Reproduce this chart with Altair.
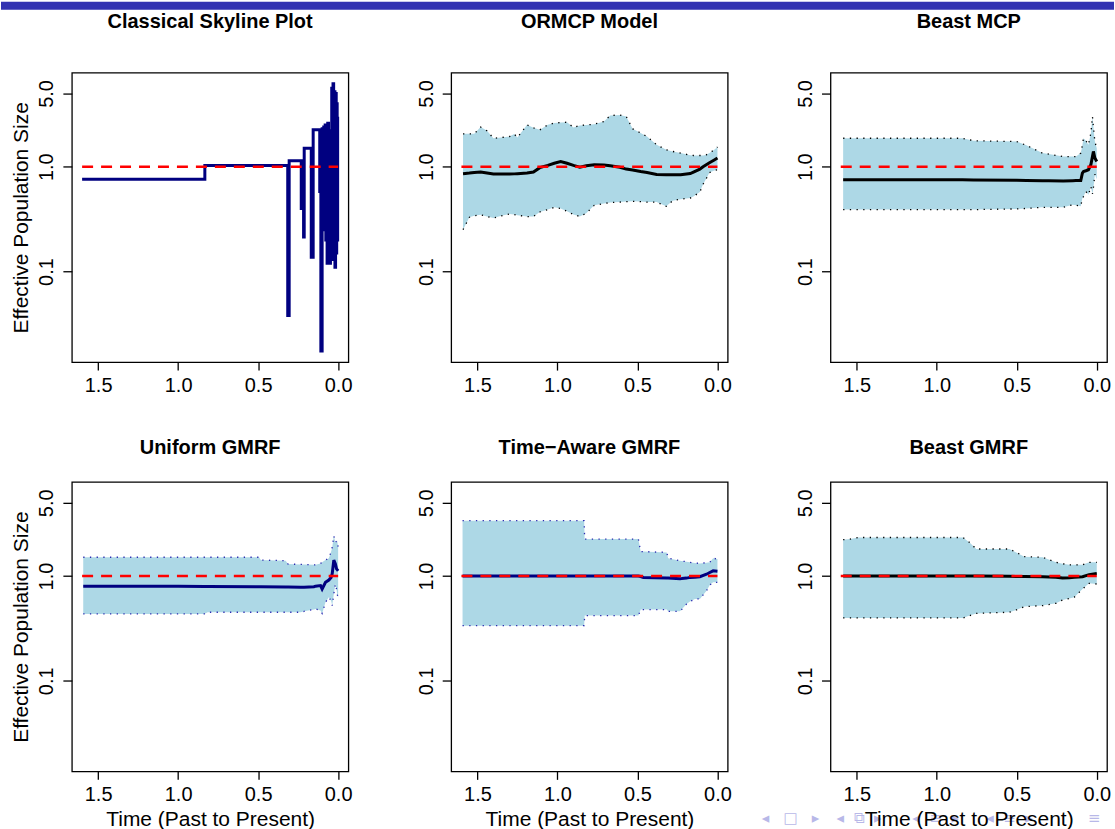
import altair as alt
import pandas as pd

# ---------------- data ----------------
panel_titles = ["Classical Skyline Plot", "ORMCP Model", "Beast MCP",
                "Uniform GMRF", "Time\u2212Aware GMRF", "Beast GMRF"]
x_ticks = [1.5, 1.0, 0.5, 0.0]
y_ticks = [0.1, 1.0, 5.0]
truth_t = [1.6, 0.0]
truth_n = [1.0, 1.0]

# Classical skyline: each value holds from its start time until the next start time
sky_start = [1.6, 0.833, 0.315, 0.306, 0.2305, 0.216, 0.212, 0.168, 0.156, 0.115,
             0.108, 0.100, 0.094, 0.090, 0.085, 0.081, 0.077, 0.073, 0.069, 0.065,
             0.060, 0.056, 0.052, 0.048, 0.044, 0.040, 0.036, 0.032, 0.028, 0.024,
             0.020, 0.016, 0.012, 0.009, 0.006, 0.003]
sky_value = [0.76, 1.03, 0.038, 1.14, 0.40, 0.214, 1.5, 0.137, 2.25, 0.58,
             0.0175, 2.3, 0.25, 2.4, 0.6, 2.5, 0.2, 2.0, 0.12, 2.6,
             0.5, 2.2, 0.12, 1.6, 0.3, 5.6, 0.13, 6.2, 0.5, 5.2,
             0.11, 5.0, 0.15, 4.0, 0.2, 3.0]
sky_end = 0.0

ormcp_t = [1.59, 1.55, 1.52, 1.48, 1.44, 1.40, 1.35, 1.30, 1.27, 1.25, 1.19, 1.15, 1.11,
           1.06, 1.02, 0.98, 0.94, 0.90, 0.86, 0.82, 0.77, 0.71, 0.67, 0.61, 0.57, 0.53,
           0.48, 0.44, 0.38, 0.32, 0.28, 0.23, 0.17, 0.15, 0.11, 0.09, 0.07, 0.05, 0.02, 0.0]
ormcp_upper = [2.06, 2.06, 2.06, 2.39, 2.2, 1.87, 1.90, 1.94, 2.05, 1.90, 2.51, 2.35, 2.25,
               2.51, 2.61, 2.64, 2.66, 2.37, 2.48, 2.50, 2.55, 2.70, 3.08, 3.12, 3.01, 2.30,
               2.10, 1.94, 1.62, 1.45, 1.40, 1.35, 1.29, 1.28, 1.28, 1.28, 1.30, 1.35, 1.45, 1.54]
ormcp_lower = [0.251, 0.33, 0.34, 0.349, 0.335, 0.324, 0.34, 0.354, 0.35, 0.344, 0.335, 0.335, 0.37,
               0.39, 0.41, 0.40, 0.376, 0.35, 0.335, 0.36, 0.428, 0.445, 0.455, 0.46, 0.465, 0.468,
               0.465, 0.46, 0.46, 0.419, 0.474, 0.49, 0.503, 0.52, 0.574, 0.68, 0.77, 0.88, 0.92, 0.936]
ormcp_median = [0.858, 0.87, 0.883, 0.89, 0.87, 0.852, 0.852, 0.852, 0.855, 0.858, 0.87, 0.89, 0.98,
                1.03, 1.08, 1.12, 1.08, 1.03, 0.99, 1.02, 1.045, 1.04, 1.02, 0.99, 0.95, 0.93,
                0.90, 0.88, 0.845, 0.839, 0.839, 0.84, 0.86, 0.89, 0.95, 1.0, 1.045, 1.09, 1.16, 1.21]

bmcp_t = [1.585, 1.2, 0.84, 0.77, 0.50, 0.44, 0.34, 0.30, 0.21, 0.15, 0.13, 0.10, 0.09, 0.083,
          0.068, 0.052, 0.037, 0.027, 0.021, 0.012, 0.0]
bmcp_upper = [1.87, 1.87, 1.87, 1.77, 1.74, 1.60, 1.35, 1.32, 1.25, 1.25, 1.25, 1.35, 1.60, 1.87,
              1.77, 1.62, 2.09, 3.01, 2.40, 1.74, 1.50]
bmcp_lower = [0.39, 0.39, 0.39, 0.39, 0.396, 0.40, 0.41, 0.41, 0.41, 0.435, 0.43, 0.42, 0.50, 0.52,
              0.58, 0.54, 0.65, 0.55, 0.63, 0.85, 0.76]
bmcp_median = [0.752, 0.752, 0.750, 0.748, 0.742, 0.740, 0.736, 0.736, 0.733, 0.737, 0.738, 0.740,
               0.87, 0.90, 0.916, 0.936, 1.045, 1.25, 1.40, 1.21, 1.12]

ugmrf_t = [1.593, 1.0, 0.836, 0.815, 0.494, 0.483, 0.328, 0.313, 0.234, 0.213, 0.151, 0.141, 0.11,
           0.10, 0.079, 0.058, 0.044, 0.037, 0.027, 0.017, 0.01, 0.006, 0.0]
ugmrf_upper = [1.51, 1.51, 1.51, 1.51, 1.51, 1.42, 1.40, 1.30, 1.29, 1.29, 1.28, 1.28, 1.32,
               1.35, 1.42, 1.48, 1.70, 1.87, 2.42, 2.09, 2.15, 2.17, 1.90]
ugmrf_lower = [0.435, 0.435, 0.435, 0.451, 0.451, 0.451, 0.451, 0.451, 0.451, 0.46, 0.48, 0.485, 0.47,
               0.44, 0.561, 0.627, 0.58, 0.522, 0.674, 0.839, 0.75, 0.674, 0.62]
ugmrf_median = [0.797, 0.797, 0.795, 0.795, 0.79, 0.79, 0.785, 0.785, 0.78, 0.78, 0.79, 0.80, 0.81,
                0.752, 0.87, 0.916, 0.97, 1.05, 1.42, 1.30, 1.17, 1.15, 1.12]

tagmrf_t = [1.593, 0.833, 0.830, 0.494, 0.480, 0.463, 0.317, 0.308, 0.234, 0.224, 0.193, 0.172,
            0.141, 0.110, 0.068, 0.048, 0.027, 0.0]
tagmrf_upper = [3.37, 3.37, 2.25, 2.25, 1.71, 1.71, 1.68, 1.48, 1.40, 1.39, 1.37, 1.35,
                1.33, 1.32, 1.34, 1.35, 1.48, 1.45]
tagmrf_lower = [0.336, 0.336, 0.419, 0.419, 0.478, 0.478, 0.478, 0.46, 0.46, 0.478, 0.541, 0.57,
                0.604, 0.604, 0.725, 0.82, 0.87, 0.87]
tagmrf_median = [1.0, 1.0, 1.0, 1.0, 0.99, 0.97, 0.957, 0.955, 0.943, 0.945, 0.955, 0.97,
                 0.975, 0.985, 1.04, 1.08, 1.12, 1.11]

bgmrf_t = [1.585, 1.541, 1.49, 0.836, 0.795, 0.753, 0.546, 0.504, 0.452, 0.338, 0.255, 0.214,
           0.172, 0.141, 0.089, 0.048, 0.0]
bgmrf_upper = [2.22, 2.25, 2.33, 2.33, 2.09, 1.81, 1.81, 1.68, 1.53, 1.51, 1.35, 1.31,
               1.28, 1.28, 1.28, 1.35, 1.35]
bgmrf_lower = [0.398, 0.398, 0.398, 0.398, 0.419, 0.44, 0.451, 0.474, 0.511, 0.522, 0.549, 0.591,
               0.61, 0.627, 0.752, 0.851, 0.839]
bgmrf_median = [1.0, 1.0, 1.0, 1.0, 1.0, 0.998, 0.995, 0.99, 0.99, 0.985, 0.975, 0.957,
                0.965, 0.975, 0.985, 1.03, 1.06]

# ---------------- styling ----------------
FONT = "Liberation Sans"
W, H = 277, 290
XDOM = [1.664, -0.064]
YDOM = [0.01368, 7.91]
NAVY = "#000080"
BAND = "#ADD8E6"
HEADER = "#3333B2"
NAVCOL = "#B8B8E8"
NB = "\u00a0"


def axes(col, row):
    xa = alt.Axis(values=x_ticks, format=".1f",
                  title=("Time (Past to Present)" if row == 1 else ""),
                  labelFont=FONT, labelFontSize=20, labelColor="black", labelPadding=5,
                  labelFlush=False, labelOverlap=False,
                  tickSize=8, tickColor="black", tickWidth=1.3,
                  domain=False, grid=False,
                  titleFont=FONT, titleFontSize=21, titleFontWeight="normal", titleColor="black",
                  titleBaseline="alphabetic", titleAlign="center", titleX=W / 2, titleY=54,
                  zindex=1)
    ya = alt.Axis(values=y_ticks, format=".1f",
                  title=("Effective Population Size" if col == 0 else ""),
                  labelFont=FONT, labelFontSize=20, labelColor="black",
                  labelAngle=270, labelAlign="center", labelBaseline="alphabetic",
                  labelPadding=10, labelOverlap=False, labelFlush=False,
                  tickSize=9, tickColor="black", tickWidth=1.3,
                  domain=False, grid=False,
                  titleFont=FONT, titleFontSize=21, titleFontWeight="normal", titleColor="black",
                  titleAngle=270, titleAlign="center", titleBaseline="alphabetic",
                  titleX=-44, titleY=H / 2, zindex=1)
    return xa, ya


def xy(col, row, yfield="n"):
    xa, ya = axes(col, row)
    x = alt.X("t:Q", scale=alt.Scale(domain=XDOM, nice=False, zero=False), axis=xa)
    y = alt.Y(f"{yfield}:Q", scale=alt.Scale(type="log", domain=YDOM, nice=False), axis=ya)
    return x, y


def truth_layer(col, row):
    x, y = xy(col, row)
    df = pd.DataFrame({"t": truth_t, "n": truth_n})
    return alt.Chart(df).mark_line(color="red", strokeWidth=2.7, strokeDash=[11, 8]).encode(x=x, y=y)


def band_panel(col, row, t, lo, med, hi, line_color, dot_color):
    df = pd.DataFrame({"t": t, "lo": lo, "n": med, "hi": hi})
    x, y_lo = xy(col, row, "lo")
    _, y_hi = xy(col, row, "hi")
    _, y_med = xy(col, row, "n")
    band = alt.Chart(df).mark_area(color=BAND, opacity=1).encode(x=x, y=y_lo, y2=alt.Y2("hi:Q"))
    dots_lo = alt.Chart(df).mark_line(color=dot_color, strokeWidth=1.3, strokeDash=[1.3, 5.4]).encode(x=x, y=y_lo)
    dots_hi = alt.Chart(df).mark_line(color=dot_color, strokeWidth=1.3, strokeDash=[1.3, 5.4]).encode(x=x, y=y_hi)
    median = alt.Chart(df).mark_line(color=line_color, strokeWidth=3).encode(x=x, y=y_med)
    return [band, dots_lo, dots_hi, median, truth_layer(col, row)]


def title(text, offset):
    return alt.TitleParams(text=text, font=FONT, fontSize=20, fontWeight="bold", color="black",
                           anchor="middle", frame="group", baseline="alphabetic", offset=offset)


def nav_text(text, px):
    return alt.Chart(pd.DataFrame({"k": [0]})).mark_text(
        text=text, font="DejaVu Sans", fontSize=15, color=NAVCOL, align="left",
        baseline="middle").encode(x=alt.value(px), y=alt.value(337))


# Panel 1: classical skyline (step function built from the segment lists)
sky_t, sky_n, sky_o = [], [], []
ends = sky_start[1:] + [sky_end]
for i, (s, e, v) in enumerate(zip(sky_start, ends, sky_value)):
    sky_t += [s, e]
    sky_n += [v, v]
    sky_o += [2 * i, 2 * i + 1]
sky_df = pd.DataFrame({"t": sky_t, "n": sky_n, "o": sky_o})
x1, y1 = xy(0, 0)
sky = alt.Chart(sky_df).mark_line(color=NAVY, strokeWidth=3, strokeJoin="miter").encode(
    x=x1, y=y1, order=alt.Order("o:Q"))
header = alt.Chart(pd.DataFrame({"k": [0]})).mark_rect(color=HEADER).encode(
    x=alt.value(-71), x2=alt.value(1044), y=alt.value(-71), y2=alt.value(-63))
p1 = alt.layer(header, sky, truth_layer(0, 0)).properties(
    width=W, height=H, title=title(panel_titles[0], -46.7))

p2 = alt.layer(*band_panel(1, 0, ormcp_t, ormcp_lower, ormcp_median, ormcp_upper, "black", "black")).properties(
    width=W, height=H, title=title(panel_titles[1], 24.3))
p3 = alt.layer(*band_panel(2, 0, bmcp_t, bmcp_lower, bmcp_median, bmcp_upper, "black", "black")).properties(
    width=W, height=H, title=title(panel_titles[2], 24.3))
p4 = alt.layer(*band_panel(0, 1, ugmrf_t, ugmrf_lower, ugmrf_median, ugmrf_upper, NAVY, "#2B2BB0")).properties(
    width=W, height=H, title=title(panel_titles[3], 8))
p5 = alt.layer(*band_panel(1, 1, tagmrf_t, tagmrf_lower, tagmrf_median, tagmrf_upper, NAVY, "#2B2BB0")).properties(
    width=W, height=H, title=title(panel_titles[4], 8))

navs = [
    nav_text("\u25c2" + NB * 3 + "\u25a1" + NB * 3 + "\u25b8", -69),
    nav_text("\u25c2" + NB * 2 + "\u29c9" + NB * 2 + "\u25b8", 6),
    nav_text("\u25c2" + NB * 2 + "\u2261" + NB * 2 + "\u25b8", 82),
    nav_text("\u25c2" + NB * 2 + "\u2261" + NB * 2 + "\u25b8", 156),
    nav_text("\u2261", 258),
]
p6 = alt.layer(*band_panel(2, 1, bgmrf_t, bgmrf_lower, bgmrf_median, bgmrf_upper, "black", "black"), *navs).properties(
    width=W, height=H, title=title(panel_titles[5], 8))

chart = alt.concat(p1, p2, p3, p4, p5, p6, columns=3,
                   spacing={"row": 120, "column": 103}, bounds="flush").properties(
    padding=0, background="white").configure_view(stroke="black", strokeWidth=1.3)

chart.save("out.html", embed_options={"renderer": "svg", "actions": False})
